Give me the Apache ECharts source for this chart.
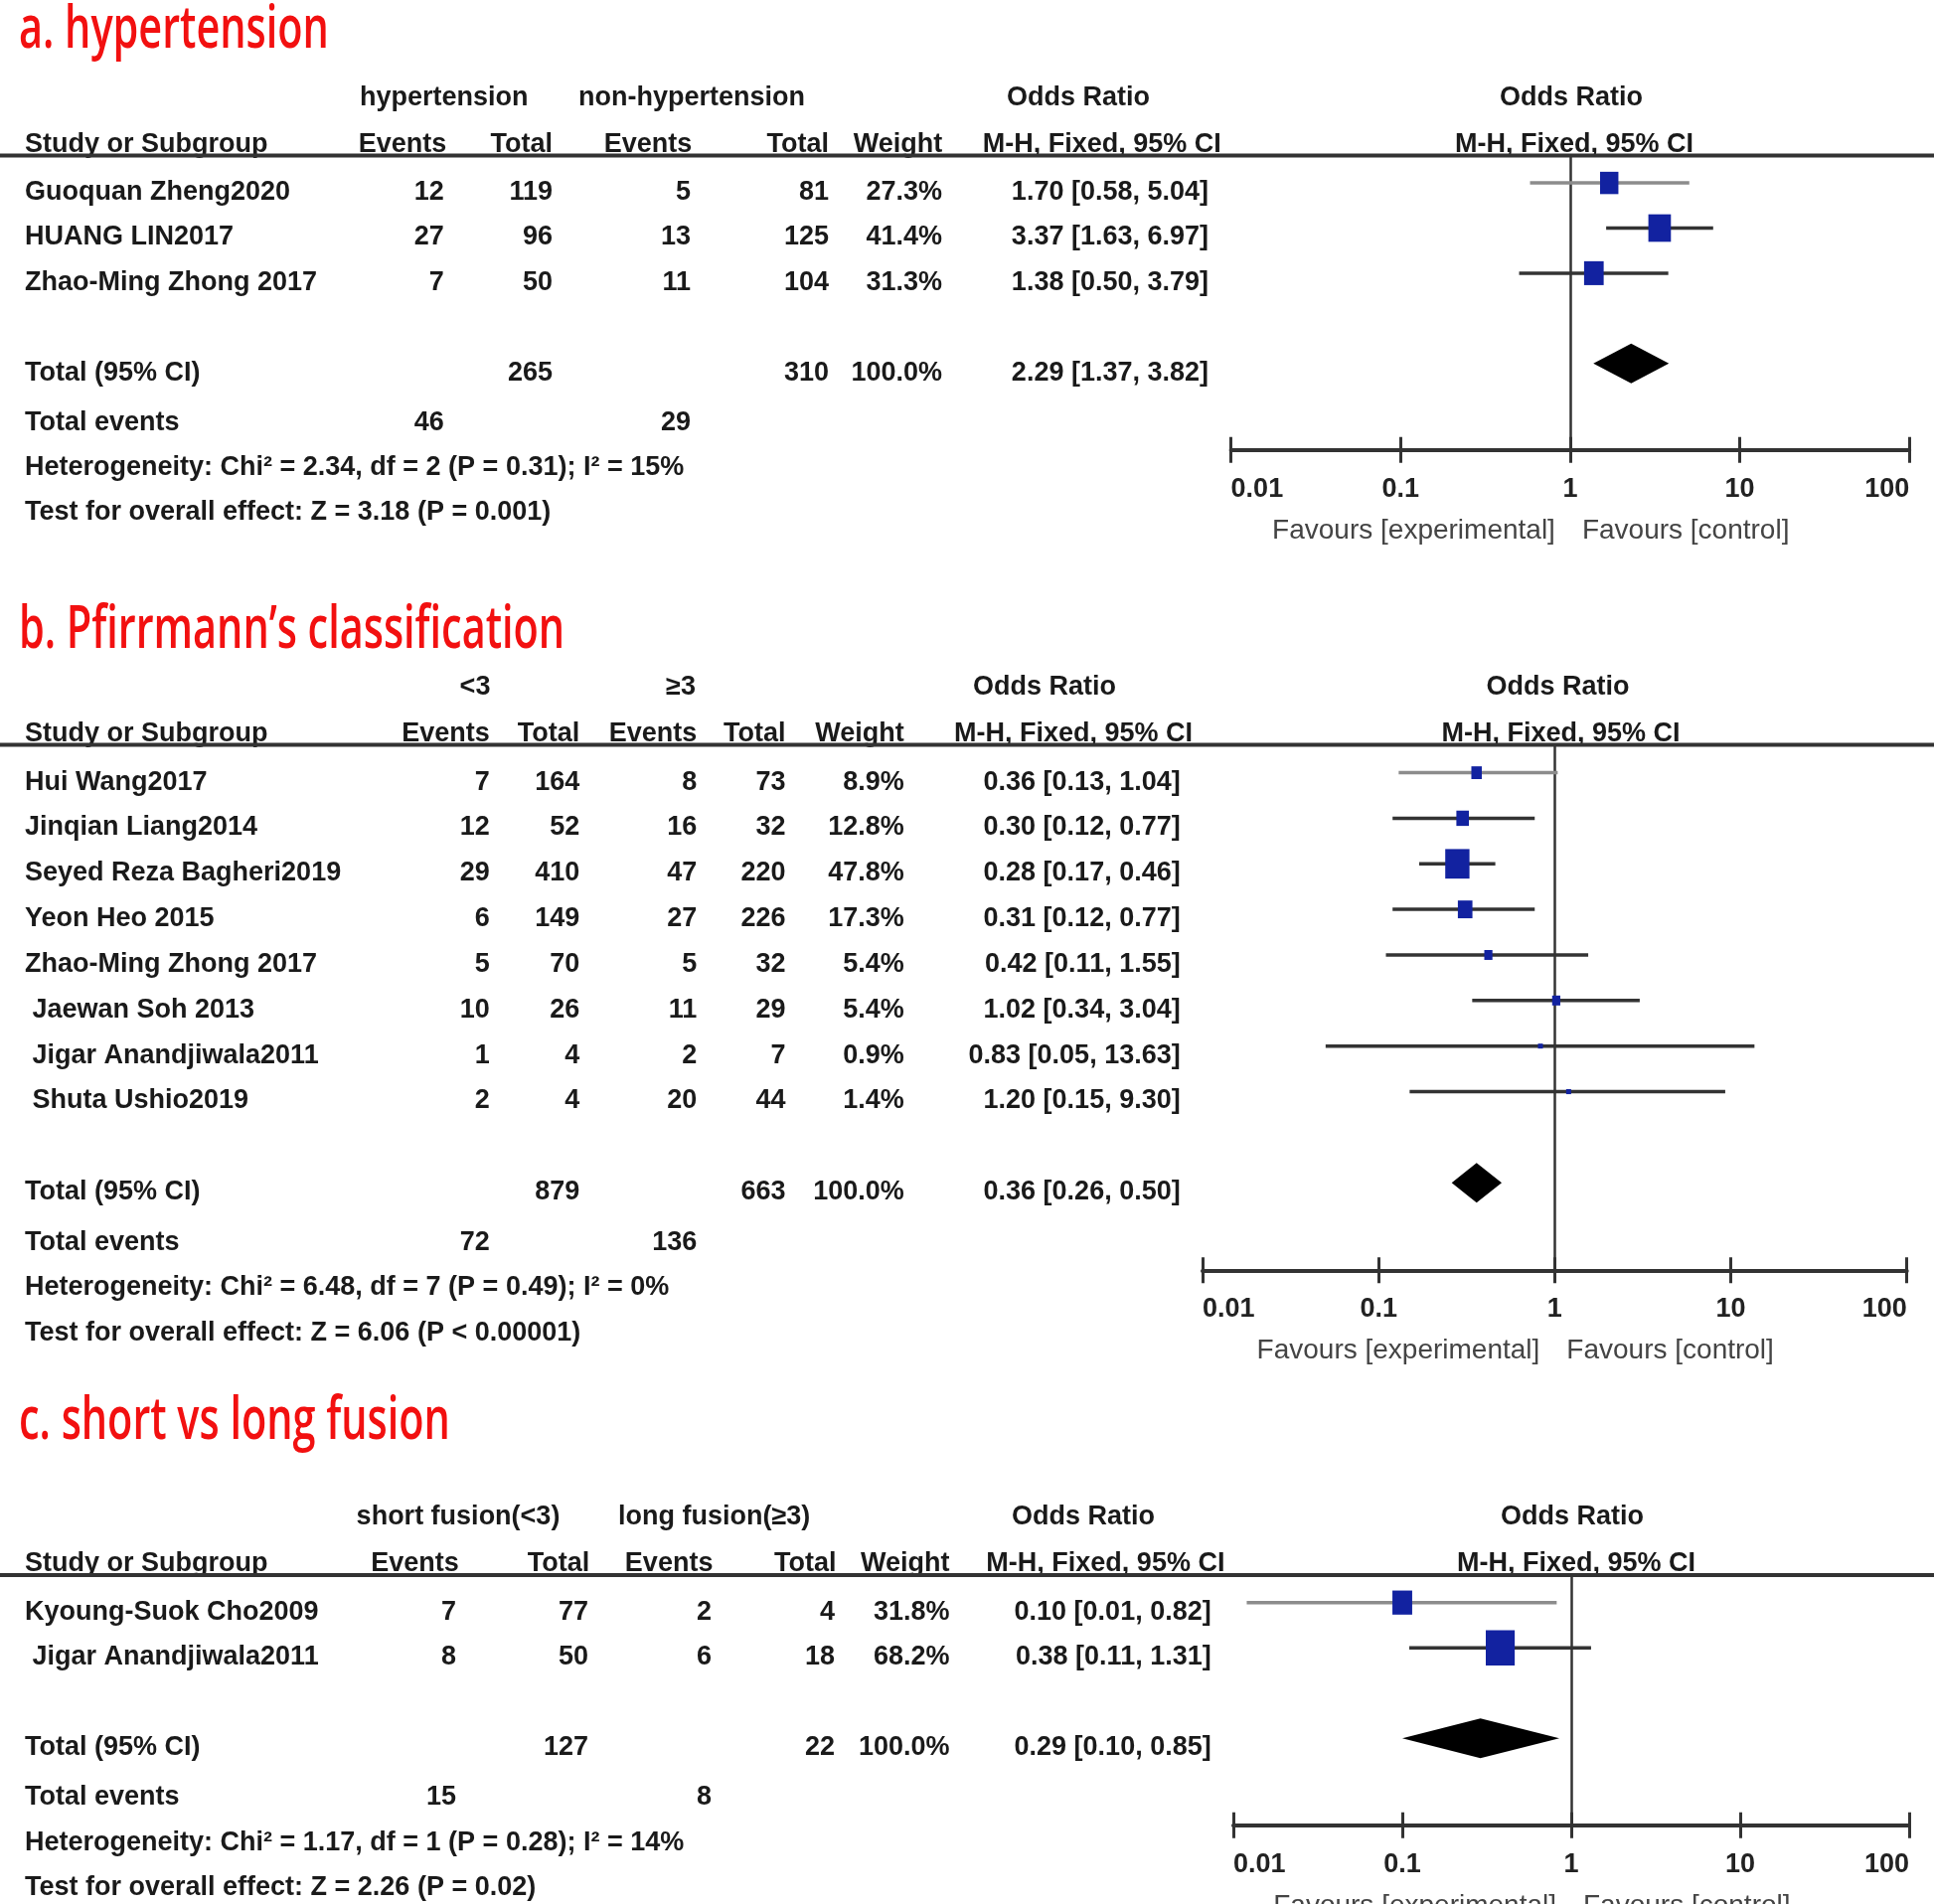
<!DOCTYPE html>
<html><head><meta charset="utf-8">
<script src="https://cdn.jsdelivr.net/npm/echarts@6/dist/echarts.min.js"></script>
<style>html,body{margin:0;padding:0;background:#fff}#c{width:1946px;height:1916px}</style>
</head><body><div id="c"></div>
<script>
// ---------- shared labels ----------
const tickLabels = ['0.01', '0.1', '1', '10', '100'];
const favourLabels = ['Favours [experimental]', 'Favours [control]'];

// ---------- panel a ----------
const aTitle = 'a. hypertension';
const aGroups = ['hypertension', 'non-hypertension'];
const aStudies = ['Guoquan Zheng2020', 'HUANG LIN2017', 'Zhao-Ming Zhong 2017'];
const aEvents1 = [12, 27, 7];
const aTotal1 = [119, 96, 50];
const aEvents2 = [5, 13, 11];
const aTotal2 = [81, 125, 104];
const aWeight = [27.3, 41.4, 31.3];
const aOR = [1.70, 3.37, 1.38];
const aLo = [0.58, 1.63, 0.50];
const aHi = [5.04, 6.97, 3.79];
const aTotalN = [265, 310];
const aTotalWeight = 100.0;
const aTotalEvents = [46, 29];
const aTotalOR = [2.29, 1.37, 3.82];
const aHet = 'Heterogeneity: Chi² = 2.34, df = 2 (P = 0.31); I² = 15%';
const aTest = 'Test for overall effect: Z = 3.18 (P = 0.001)';

// ---------- panel b ----------
const bTitle = 'b. Pfirrmann\u2019s classification';
const bGroups = ['<3', '\u22653'];
const bStudies = ['Hui Wang2017', 'Jinqian Liang2014', 'Seyed Reza Bagheri2019', 'Yeon Heo 2015',
  'Zhao-Ming Zhong 2017', ' Jaewan Soh 2013', ' Jigar Anandjiwala2011', ' Shuta Ushio2019'];
const bEvents1 = [7, 12, 29, 6, 5, 10, 1, 2];
const bTotal1 = [164, 52, 410, 149, 70, 26, 4, 4];
const bEvents2 = [8, 16, 47, 27, 5, 11, 2, 20];
const bTotal2 = [73, 32, 220, 226, 32, 29, 7, 44];
const bWeight = [8.9, 12.8, 47.8, 17.3, 5.4, 5.4, 0.9, 1.4];
const bOR = [0.36, 0.30, 0.28, 0.31, 0.42, 1.02, 0.83, 1.20];
const bLo = [0.13, 0.12, 0.17, 0.12, 0.11, 0.34, 0.05, 0.15];
const bHi = [1.04, 0.77, 0.46, 0.77, 1.55, 3.04, 13.63, 9.30];
const bTotalN = [879, 663];
const bTotalWeight = 100.0;
const bTotalEvents = [72, 136];
const bTotalOR = [0.36, 0.26, 0.50];
const bHet = 'Heterogeneity: Chi² = 6.48, df = 7 (P = 0.49); I² = 0%';
const bTest = 'Test for overall effect: Z = 6.06 (P < 0.00001)';

// ---------- panel c ----------
const cTitle = 'c. short vs long fusion';
const cGroups = ['short fusion(<3)', 'long fusion(\u22653)'];
const cStudies = ['Kyoung-Suok Cho2009', ' Jigar Anandjiwala2011'];
const cEvents1 = [7, 8];
const cTotal1 = [77, 50];
const cEvents2 = [2, 6];
const cTotal2 = [4, 18];
const cWeight = [31.8, 68.2];
const cOR = [0.10, 0.38];
const cLo = [0.012, 0.11];
const cHi = [0.82, 1.31];
const cTotalN = [127, 22];
const cTotalWeight = 100.0;
const cTotalEvents = [15, 8];
const cTotalOR = [0.29, 0.10, 0.85];
const cHet = 'Heterogeneity: Chi² = 1.17, df = 1 (P = 0.28); I² = 14%';
const cTest = 'Test for overall effect: Z = 2.26 (P = 0.02)';

const panels = [
  {title: aTitle, groups: aGroups, studies: aStudies, e1: aEvents1, t1: aTotal1, e2: aEvents2, t2: aTotal2,
   w: aWeight, or: aOR, lo: aLo, hi: aHi, totN: aTotalN, totW: aTotalWeight, totE: aTotalEvents, totOR: aTotalOR, het: aHet, test: aTest},
  {title: bTitle, groups: bGroups, studies: bStudies, e1: bEvents1, t1: bTotal1, e2: bEvents2, t2: bTotal2,
   w: bWeight, or: bOR, lo: bLo, hi: bHi, totN: bTotalN, totW: bTotalWeight, totE: bTotalEvents, totOR: bTotalOR, het: bHet, test: bTest},
  {title: cTitle, groups: cGroups, studies: cStudies, e1: cEvents1, t1: cTotal1, e2: cEvents2, t2: cTotal2,
   w: cWeight, or: cOR, lo: cLo, hi: cHi, totN: cTotalN, totW: cTotalWeight, totE: cTotalEvents, totOR: cTotalOR, het: cHet, test: cTest}
];

// ---------- layout (pixels) ----------
const layouts = [
  {titleY: 31, lineY: 156.4, rowH: 45.4, gridL: 1238.6, gridR: 1921.2,
   h1: [446.8, 696, 1085, 1581], h2: [449.3, 556, 696.3, 834, 948.2, 1228.7, 1584],
   cols: [446.8, 556, 695, 834, 948, 1216]},
  {titleY: 635, lineY: 749.6, rowH: 45.85, gridL: 1210, gridR: 1918.7,
   h1: [478, 685, 1051, 1567.5], h2: [492.7, 583.3, 701.2, 790.6, 909.7, 1200, 1570.6],
   cols: [492.7, 583.3, 701.2, 790.6, 909.7, 1187.7]},
  {titleY: 1431, lineY: 1584.9, rowH: 45.55, gridL: 1241, gridR: 1921,
   h1: [461, 718.6, 1090, 1582], h2: [461.7, 593.2, 717.4, 841.5, 955.6, 1232.4, 1586],
   cols: [459, 592, 716, 840, 955.6, 1218.7]}
];
const TOP_OFF = 0.61;   // header line position in row units above first study
const AX_POS = 2.92;    // axis line position in row units after study count
const TXT_OFF = 9.5;    // text sits a bit lower than marks

const FONT = '"Liberation Sans", Arial, Helvetica, sans-serif';
function T(x, y, text, opts, extra) {
  return Object.assign({type: 'text', x: x, y: y, silent: true, z: 10,
    style: Object.assign({text: text, fill: '#1a1a1a', fontFamily: FONT, fontSize: 27,
      fontWeight: 'bold', align: 'left', verticalAlign: 'middle'}, opts || {})}, extra || {});
}
const fmt2 = v => v.toFixed(2);
const ciText = (o, l, h) => fmt2(o) + ' [' + fmt2(l) + ', ' + fmt2(h) + ']';

const chart = echarts.init(document.getElementById('c'), null, {renderer: 'canvas'});

const grids = [], xAxes = [], yAxes = [], series = [];
panels.forEach((d, k) => {
  const L = layouts[k];
  const N = d.studies.length;
  const yMax = N + AX_POS;
  grids.push({left: L.gridL, top: L.lineY, width: L.gridR - L.gridL, height: L.rowH * (yMax + TOP_OFF),
    containLabel: false, outerBoundsMode: 'none'});
  const base = {type: 'log', logBase: 10, min: 0.01, max: 100, gridIndex: k, splitLine: {show: false},
    splitNumber: 4, position: 'bottom'};
  xAxes.push(Object.assign({}, base, {
    axisLine: {show: true, onZero: false, lineStyle: {color: '#333', width: 4}},
    axisTick: {show: true, inside: false, length: 13, lineStyle: {color: '#333', width: 3}},
    axisLabel: {show: true, margin: 26, color: '#222', fontFamily: FONT, fontSize: 27, fontWeight: 'bold',
      alignMinLabel: 'left', alignMaxLabel: 'right',
      formatter: v => tickLabels[Math.round(Math.log10(v)) + 2]}
  }));
  xAxes.push(Object.assign({}, base, {
    axisLine: {show: false, onZero: false},
    axisTick: {show: true, inside: true, length: 13, lineStyle: {color: '#333', width: 3}},
    axisLabel: {show: false}
  }));
  yAxes.push({type: 'value', gridIndex: k, inverse: true, min: -TOP_OFF, max: yMax, show: false});

  const rows = d.or.map((o, i) => [o, d.lo[i], d.hi[i], d.w[i], i]);
  series.push({
    type: 'custom', xAxisIndex: 2 * k, yAxisIndex: k, data: rows, silent: true, z: 5,
    renderItem: function (params, api) {
      const o = api.value(0), lo = api.value(1), hi = api.value(2), w = api.value(3), r = api.value(4);
      const pL = api.coord([lo, r]), pH = api.coord([hi, r]), p = api.coord([o, r]);
      const h = Math.max(5, 4.3 * Math.sqrt(w)), bw = Math.max(5, h * 0.82);
      return {type: 'group', children: [
        {type: 'line', shape: {x1: pL[0], y1: pL[1], x2: pH[0], y2: pH[1]},
         style: {stroke: r === 0 ? '#8c8c8c' : '#333', lineWidth: 3.5}},
        {type: 'rect', shape: {x: p[0] - bw / 2, y: p[1] - h / 2, width: bw, height: h},
         style: {fill: '#1222a0'}}
      ]};
    },
    markLine: {silent: true, symbol: 'none', animation: false, label: {show: false},
      lineStyle: {color: '#333', width: 2.5, type: 'solid'}, data: [{xAxis: 1}]}
  });
  series.push({
    type: 'custom', xAxisIndex: 2 * k, yAxisIndex: k, silent: true, z: 6,
    data: [[d.totOR[0], d.totOR[1], d.totOR[2], N + 1]],
    renderItem: function (params, api) {
      const r = api.value(3);
      const pc = api.coord([api.value(0), r]), pl = api.coord([api.value(1), r]), ph = api.coord([api.value(2), r]);
      const hh = 20;
      return {type: 'polygon', shape: {points: [[pl[0], pc[1]], [pc[0], pc[1] - hh], [ph[0], pc[1]], [pc[0], pc[1] + hh]]},
        style: {fill: '#000'}};
    }
  });
});

chart.setOption({
  animation: false,
  backgroundColor: '#fff',
  grid: grids, xAxis: xAxes, yAxis: yAxes, series: series
});

// ---------- table text ----------
const g = [];
panels.forEach((d, k) => {
  const L = layouts[k];
  const N = d.studies.length;
  const rowY = i => L.lineY + (i + TOP_OFF) * L.rowH + TXT_OFF;
  g.push(T(19, L.titleY, d.title, {fill: '#f21010', fontFamily: '"Open Sans", "Noto Sans", sans-serif',
    fontSize: 60, fontWeight: 600}, {scaleX: 0.69}));
  const y1 = L.lineY - 58, y2 = L.lineY - 11;
  g.push(T(L.h1[0], y1, d.groups[0], {align: 'center'}));
  g.push(T(L.h1[1], y1, d.groups[1], {align: 'center'}));
  g.push(T(L.h1[2], y1, 'Odds Ratio', {align: 'center'}));
  g.push(T(L.h1[3], y1, 'Odds Ratio', {align: 'center'}));
  g.push(T(25, y2, 'Study or Subgroup'));
  ['Events', 'Total', 'Events', 'Total', 'Weight', 'M-H, Fixed, 95% CI'].forEach((s, j) =>
    g.push(T(L.h2[j], y2, s, {align: 'right'})));
  g.push(T(L.h2[6], y2, 'M-H, Fixed, 95% CI', {align: 'center'}));
  g.push({type: 'line', silent: true, z: 11, shape: {x1: 0, y1: L.lineY, x2: 1946, y2: L.lineY},
    style: {stroke: '#333', lineWidth: 4}});
  d.studies.forEach((s, i) => {
    const y = rowY(i);
    g.push(T(25, y, s));
    [d.e1[i], d.t1[i], d.e2[i], d.t2[i], d.w[i].toFixed(1) + '%', ciText(d.or[i], d.lo[i], d.hi[i])]
      .forEach((v, j) => g.push(T(L.cols[j], y, String(v), {align: 'right'})));
  });
  let y = rowY(N + 1);
  g.push(T(25, y, 'Total (95% CI)'));
  g.push(T(L.cols[1], y, String(d.totN[0]), {align: 'right'}));
  g.push(T(L.cols[3], y, String(d.totN[1]), {align: 'right'}));
  g.push(T(L.cols[4], y, d.totW.toFixed(1) + '%', {align: 'right'}));
  g.push(T(L.cols[5], y, ciText(d.totOR[0], d.totOR[1], d.totOR[2]), {align: 'right'}));
  y = rowY(N + 2.1);
  g.push(T(25, y, 'Total events'));
  g.push(T(L.cols[0], y, String(d.totE[0]), {align: 'right'}));
  g.push(T(L.cols[2], y, String(d.totE[1]), {align: 'right'}));
  g.push(T(25, rowY(N + 3.1), d.het));
  g.push(T(25, rowY(N + 4.1), d.test));
  // favours labels, placed around OR = 1 using the axis scale
  const p1 = chart.convertToPixel({xAxisIndex: 2 * k, yAxisIndex: k}, [1, N + AX_POS]);
  const fy = p1[1] + 81;
  g.push(T(p1[0] - 15, fy, favourLabels[0], {align: 'right', fontWeight: 'normal', fontSize: 28, fill: '#444'}));
  g.push(T(p1[0] + 12, fy, favourLabels[1], {align: 'left', fontWeight: 'normal', fontSize: 28, fill: '#444'}));
});
chart.setOption({graphic: {elements: g}});
</script></body></html>
